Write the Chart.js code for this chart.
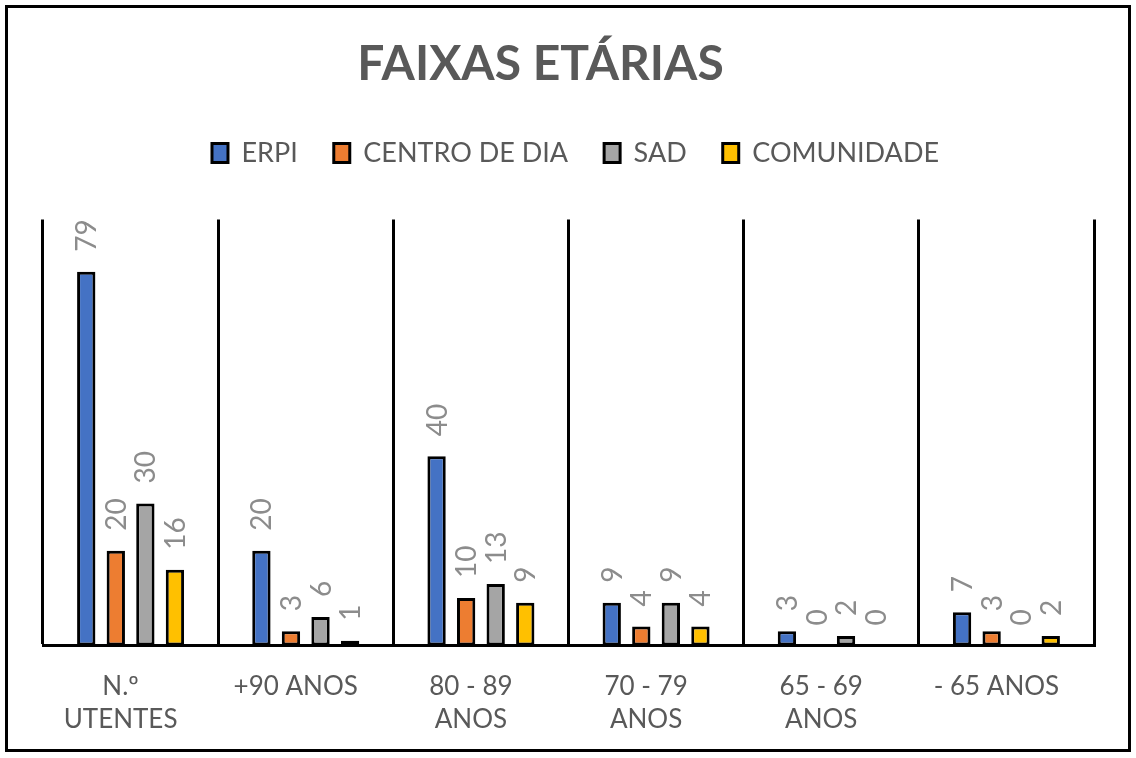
<!DOCTYPE html>
<html>
<head>
<meta charset="utf-8">
<script src="https://cdn.jsdelivr.net/npm/chart.js@4.4.1/dist/chart.umd.min.js"></script>
<style>
  html, body { margin: 0; padding: 0; background: #ffffff; }
  #frame { position: absolute; left: 5px; top: 5px; width: 1120px; height: 741px; border: 3px solid #000; background: #fff; }
  #c { display: block; }
</style>
</head>
<body>
<div id="frame"><canvas id="c" width="1120" height="741"></canvas></div>
<script>
const categories = [["N.º", "UTENTES"], "+90 ANOS", ["80 - 89", "ANOS"], ["70 - 79", "ANOS"], ["65 - 69", "ANOS"], "- 65 ANOS"];
const seriesNames = ["ERPI", "CENTRO DE DIA", "SAD", "COMUNIDADE"];
const erpi = [79, 20, 40, 9, 3, 7];
const centroDeDia = [20, 3, 10, 4, 0, 3];
const sad = [30, 6, 13, 9, 2, 0];
const comunidade = [16, 1, 9, 4, 0, 2];
const seriesColors = ["#4472C4", "#ED7D31", "#A5A5A5", "#FFC000"];

const FONT = "Lato, 'Open Sans', sans-serif";
const TEXT = "#595959";

const valueLabels = {
  id: "valueLabels",
  afterDatasetsDraw(chart) {
    const ctx = chart.ctx;
    ctx.save();
    ctx.fillStyle = "#8C8C8C";
    ctx.font = "28px " + FONT;
    ctx.textAlign = "left";
    ctx.textBaseline = "middle";
    chart.data.datasets.forEach((ds, i) => {
      const meta = chart.getDatasetMeta(i);
      meta.data.forEach((el, j) => {
        ctx.save();
        ctx.translate(el.x, el.y - 20);
        ctx.rotate(-Math.PI / 2);
        ctx.fillText(String(ds.data[j]), 0, 1);
        ctx.restore();
      });
    });
    ctx.restore();
  }
};

const layoutTweaks = {
  id: "layoutTweaks",
  beforeInit(chart) {
    const lg = chart.legend;
    if (lg) {
      const origFit = lg.fit;
      lg.fit = function () {
        origFit.call(this);
        this.height += 43;
      };
    }
  },
  afterLayout(chart) {
    const t = chart.titleBlock;
    if (t) { t.right -= 56; t.width -= 56; }
    const lg = chart.legend;
    if (lg) { lg.left += 14; lg.width -= 14; }
  }
};

const allSeries = [erpi, centroDeDia, sad, comunidade];
const datasets = allSeries.map((d, i) => ({
  label: seriesNames[i],
  data: d,
  backgroundColor: seriesColors[i],
  borderColor: "#000000",
  borderWidth: (c) => (c.raw === 0 ? 0 : 3),
  borderSkipped: false,
  categoryPercentage: 0.675,
  barPercentage: 0.62
}));

new Chart(document.getElementById("c"), {
  type: "bar",
  data: { labels: categories, datasets },
  plugins: [valueLabels, layoutTweaks],
  options: {
    responsive: false,
    animation: false,
    layout: { padding: { left: 35, right: 34, top: 0, bottom: -12 } },
    plugins: {
      tooltip: { enabled: false },
      title: {
        display: true,
        text: "FAIXAS ETÁRIAS",
        color: TEXT,
        font: { family: FONT, size: 48, weight: "bold" },
        padding: { top: 28, bottom: 10 }
      },
      legend: {
        display: true,
        position: "top",
        labels: {
          color: TEXT,
          font: { family: FONT, size: 27 },
          boxWidth: 16,
          boxHeight: 19,
          padding: 36
        }
      }
    },
    scales: {
      x: {
        offset: true,
        grid: { display: true, offset: true, color: "#000000", lineWidth: 3, drawTicks: false },
        border: { display: true, color: "#000000", width: 3 },
        ticks: { color: TEXT, font: { family: FONT, size: 26, lineHeight: 1.3 }, padding: 24, labelOffset: -10, maxRotation: 0, autoSkip: false }
      },
      y: {
        display: false,
        min: 0,
        max: 90
      }
    }
  }
});
</script>
</body>
</html>
